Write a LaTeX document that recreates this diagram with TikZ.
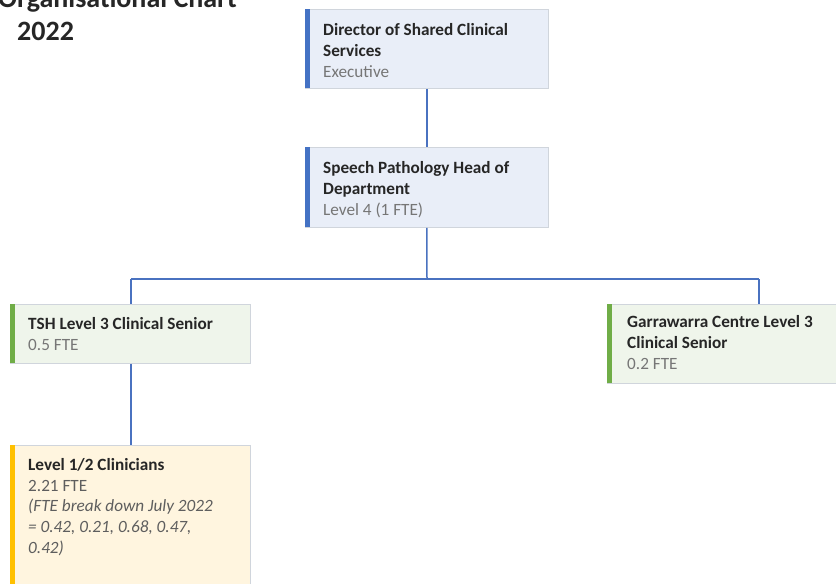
\documentclass[tikz,border=0pt]{standalone}
\usepackage{fontspec}
\setmainfont{Carlito}
\begin{document}
\definecolor{ink}{HTML}{262626}
\definecolor{subink}{HTML}{767676}
\definecolor{boxline}{HTML}{D0D5DC}
\definecolor{link}{HTML}{4A72C0}
\definecolor{bluebar}{HTML}{4472C4}
\definecolor{bluefill}{HTML}{E9EEF8}
\definecolor{greenbar}{HTML}{70AD47}
\definecolor{greenfill}{HTML}{EFF5EB}
\definecolor{amberbar}{HTML}{FFC000}
\definecolor{amberfill}{HTML}{FFF5DF}
\begin{tikzpicture}[x=1pt,y=-1pt,
  card/.style={draw=boxline, line width=0.8pt, rectangle, inner sep=0pt, anchor=north west},
  bluecard/.style={card, fill=bluefill},
  greencard/.style={card, fill=greenfill},
  bar/.style={rectangle, inner sep=0pt, anchor=north west, minimum width=5pt},
  % anchored at the baseline of the last line
  txt/.style={anchor=base west, inner sep=0pt, align=left, text=ink,
    font=\fontsize{17.2}{20.6}\selectfont},
  title/.style={anchor=base west, inner sep=0pt, text=ink,
    font=\fontsize{28}{33}\selectfont\bfseries},
  wire/.style={draw=link, line width=1.5pt}]
\useasboundingbox (0,0) rectangle (836,584);
\fill[white] (0,0) rectangle (836,584);

% heading
\node[title] (heading1) at (-2,7) {Organisational Chart};
\node[title] (heading2) at (17,40) {2022};

% cards
\node[bluecard, minimum width=243pt, minimum height=79pt] (dir) at (305,9) {};
\node[bar, fill=bluebar, minimum height=79pt] (dirbar) at (305,9) {};
\node[bluecard, minimum width=243pt, minimum height=80pt] (hod) at (305,147) {};
\node[bar, fill=bluebar, minimum height=80pt] (hodbar) at (305,147) {};
\node[greencard, minimum width=240pt, minimum height=59pt] (tsh) at (10,304) {};
\node[bar, fill=greenbar, minimum height=59pt] (tshbar) at (10,304) {};
\node[greencard, minimum width=300pt, minimum height=79pt] (gar) at (607,304) {};
\node[bar, fill=greenbar, minimum height=79pt] (garbar) at (607,304) {};
\node[card, fill=amberfill, minimum width=240pt, minimum height=160pt] (clin) at (10,445) {};
\node[bar, fill=amberbar, minimum height=160pt] (clinbar) at (10,445) {};

% connectors
\coordinate (split) at (427,279);
\coordinate (splitL) at (131,279);
\coordinate (splitR) at (759,279);
\draw[wire] (dir.south) -- (hod.north);
\draw[wire] (hod.south) -- (split);
\draw[wire] (splitL) -- (splitR);
\draw[wire] (splitL) -- (splitL |- tsh.north);
\draw[wire] (splitR) -- (splitR |- gar.north);
\draw[wire] (splitL |- tsh.south) -- (splitL |- clin.north);

% card texts
\node[txt] (dirT) at (323,77) {\textbf{Director of Shared Clinical}\\\textbf{Services}\\\textcolor{subink}{Executive}};
\node[txt] (hodT) at (323,215) {\textbf{Speech Pathology Head of}\\\textbf{Department}\\\textcolor{subink}{Level 4 (1 FTE)}};
\node[txt] (tshT) at (28,350) {\textbf{TSH Level 3 Clinical Senior}\\\textcolor{subink}{0.5 FTE}};
\node[txt] (garT) at (627,369) {\textbf{Garrawarra Centre Level 3}\\\textbf{Clinical Senior}\\\textcolor{subink}{0.2 FTE}};
\node[txt] (clinT) at (28,553) {\textbf{Level 1/2 Clinicians}\\\textcolor{subink!70!ink}{2.21 FTE}\\\textcolor{subink!70!ink}{\itshape (FTE break down July 2022}\\\textcolor{subink!70!ink}{\itshape = 0.42, 0.21, 0.68, 0.47,}\\\textcolor{subink!70!ink}{\itshape 0.42)}};
\end{tikzpicture}
\end{document}
